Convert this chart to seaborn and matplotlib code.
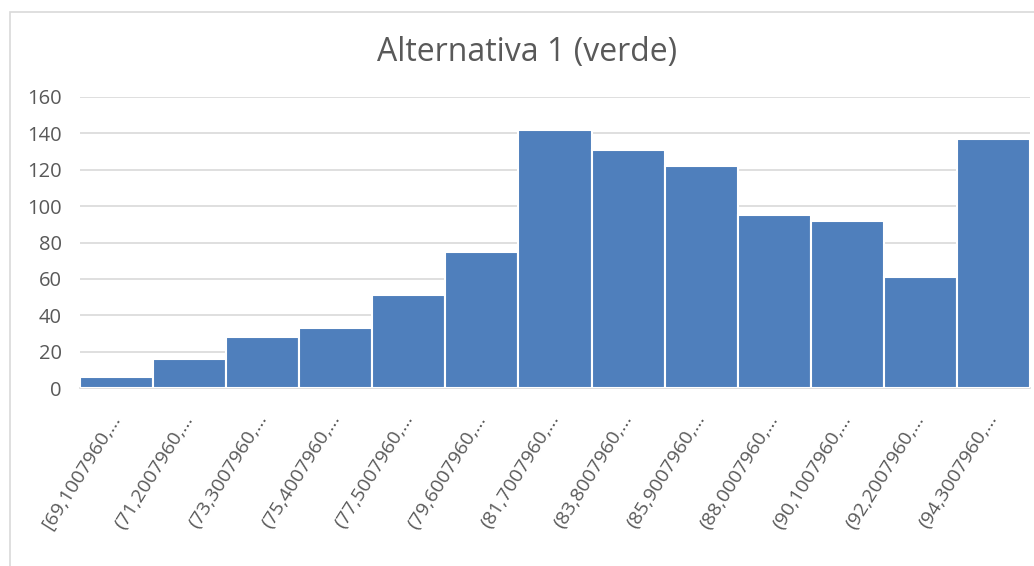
import matplotlib
matplotlib.use("Agg")
import matplotlib.pyplot as plt
import seaborn as sns
import pandas as pd
from matplotlib.patches import Rectangle

bins = ["[69,1007960,...", "(71,2007960,...", "(73,3007960,...", "(75,4007960,...",
        "(77,5007960,...", "(79,6007960,...", "(81,7007960,...", "(83,8007960,...",
        "(85,9007960,...", "(88,0007960,...", "(90,1007960,...", "(92,2007960,...",
        "(94,3007960,..."]
counts = [6, 16, 28, 33, 51, 75, 142, 131, 122, 95, 92, 61, 137]
yticks = [0, 20, 40, 60, 80, 100, 120, 140, 160]

sns.set_theme(style="white")
plt.rcParams['font.family'] = ['Open Sans', 'DejaVu Sans']

df = pd.DataFrame({"bin": bins, "count": counts})

fig = plt.figure(figsize=(10.34, 5.66), dpi=100)
ax = fig.add_axes([80/1034, 1-388/566, 950/1034, 291/566])

sns.barplot(data=df, x="bin", y="count", color="#4F7FBC", saturation=1,
            width=1.0, edgecolor="white", linewidth=1.5, ax=ax, zorder=3)

ax.set_xlim(-0.5, len(bins) - 0.5)
ax.set_ylim(0, 160)
ax.set_yticks(yticks)
ax.yaxis.grid(True, color="#D9D9D9", linewidth=1.2, zorder=0)
ax.set_axisbelow(True)
for s in ["top", "right", "left"]:
    ax.spines[s].set_visible(False)
ax.spines["bottom"].set_color("#D9D9D9")
ax.spines["bottom"].set_linewidth(1.2)
ax.set_xlabel("")
ax.set_ylabel("")
ax.tick_params(axis="y", labelsize=14.5, labelcolor="#595959", length=0, pad=13)
ax.tick_params(axis="x", labelsize=14, labelcolor="#595959", length=0, pad=20)
plt.setp(ax.get_xticklabels(), rotation=58, ha="right", va="center",
         rotation_mode="anchor")

fig.text(527/1034, 1 - 52/566, "Alternativa 1 (verde)", fontsize=23,
         color="#595959", ha="center", va="center")

# chart area border
fig.patches.append(Rectangle((10/1034, -0.01), 1.1, 1 - 12/566 + 0.01,
                             transform=fig.transFigure, fill=False,
                             edgecolor="#D9D9D9", linewidth=1.2))

fig.savefig("out.png", dpi=100, facecolor="white")
